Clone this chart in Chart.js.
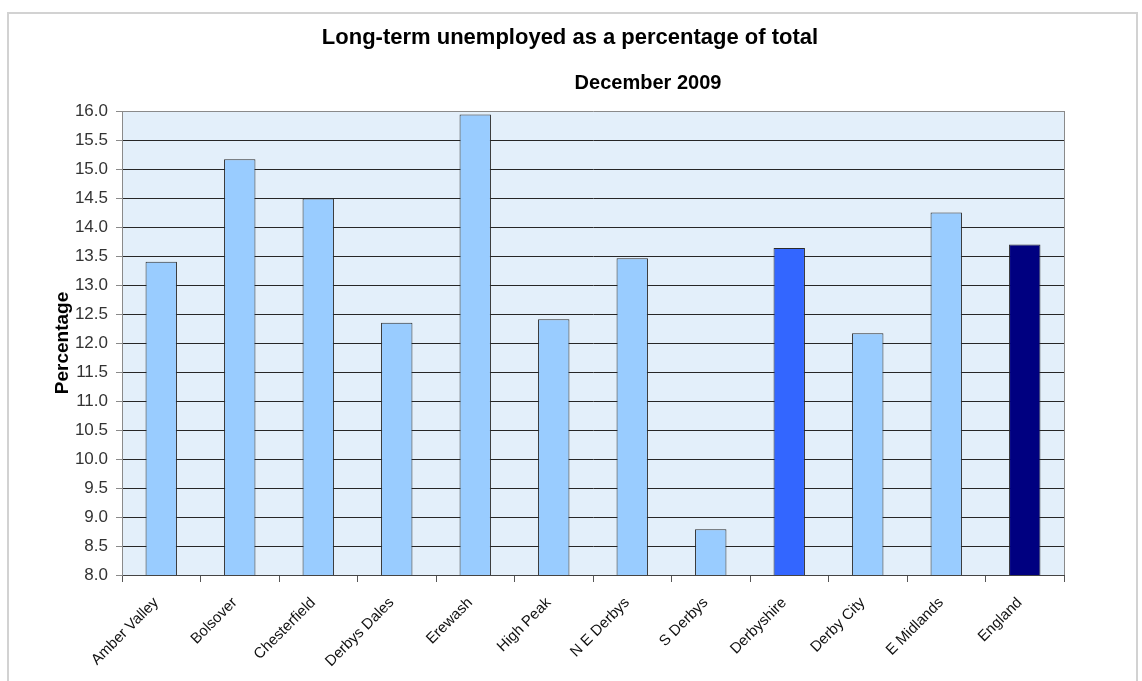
<!DOCTYPE html>
<html>
<head>
<meta charset="utf-8">
<title>Long-term unemployed</title>
<script src="https://cdn.jsdelivr.net/npm/chart.js@4.4.1/dist/chart.umd.min.js"></script>
<style>
  body { margin: 0; background: #fff; }
  #wrap { position: relative; width: 1142px; height: 681px; overflow: hidden; }
  #frame {
    position: absolute; left: 7px; top: 12px; width: 1127px; height: 700px;
    border: 2px solid #d2d2d2; border-bottom: none;
  }
  #chart { position: absolute; left: 0; top: 0; }
</style>
</head>
<body>
<div id="wrap">
  <div id="frame"></div>
  <canvas id="chart" width="1142" height="681"></canvas>
</div>
<script>
// datos - diciembre 2009
const categories = [
    "Amber Valley", "Bolsover", "Chesterfield", "Derbys Dales", "Erewash", "High Peak",
    "N E Derbys", "S Derbys", "Derbyshire", "Derby City", "E Midlands", "England",
];
const percentages = [13.40, 15.17, 14.49, 12.35, 15.94, 12.41, 13.46, 8.79, 13.64, 12.17, 14.25, 13.70];
const barColours = [
    "#99CCFF", "#99CCFF", "#99CCFF", "#99CCFF", "#99CCFF", "#99CCFF",
    "#99CCFF", "#99CCFF", "#3366FF", "#99CCFF", "#99CCFF", "#000080",
];
const yMin = 8.0, yMax = 16.0, yStep = 0.5;

const TITLE = "Long-term unemployed as a percentage of total";
const SUBTITLE = "December 2009";
const FONT = "'Liberation Sans', Arial, sans-serif";

// posiciones de los títulos dentro del marco
const titlePos = { x: 570, y: 38 };
const subtitlePos = { x: 648, y: 83 };

// fondo del área del gráfico, borde derecho y títulos
const plotBox = {
    id: "plotBox",
    beforeDraw(chart) {
        const { ctx, chartArea: a } = chart;
        ctx.save();
        ctx.fillStyle = "#E3EFFA";
        ctx.fillRect(a.left, a.top, a.right - a.left, a.bottom - a.top);
        ctx.restore();
    },
    afterDraw(chart) {
        const { ctx, chartArea: a } = chart;
        ctx.save();
        ctx.strokeStyle = "#8a8a8a";
        ctx.lineWidth = 1;
        ctx.beginPath();
        ctx.moveTo(a.right + 0.5, a.top);
        ctx.lineTo(a.right + 0.5, a.bottom);
        ctx.stroke();

        ctx.fillStyle = "#000";
        ctx.textAlign = "center";
        ctx.textBaseline = "middle";
        ctx.font = "bold 22px " + FONT;
        ctx.fillText(TITLE, titlePos.x, titlePos.y);
        ctx.font = "bold 20px " + FONT;
        ctx.fillText(SUBTITLE, subtitlePos.x, subtitlePos.y);
        ctx.restore();
    },
};

new Chart(document.getElementById("chart"), {
    type: "bar",
    data: {
        labels: categories,
        datasets: [
            {
                data: percentages,
                backgroundColor: barColours,
                borderColor: "#2b2b2b",
                borderWidth: 1,
                borderSkipped: false,
                barPercentage: 0.4,
                categoryPercentage: 1,
            },
        ],
    },
    options: {
        responsive: false,
        animation: false,
        layout: { padding: { left: 0, right: 78, top: 111, bottom: 0 } },
        plugins: {
            legend: { display: false },
            tooltip: { enabled: false },
            title: { display: false },
        },
        scales: {
            x: {
                grid: {
                    offset: true,
                    drawOnChartArea: false,
                    drawTicks: true,
                    tickLength: 7,
                    tickColor: "#555",
                },
                border: { color: "#444" },
                ticks: {
                    minRotation: 45,
                    maxRotation: 45,
                    autoSkip: false,
                    padding: 12,
                    labelOffset: -5,
                    color: "#111",
                    font: { family: FONT, size: 15 },
                },
                afterFit: (scale) => { scale.height = 106; },
            },
            y: {
                min: yMin,
                max: yMax,
                grid: {
                    color: (c) => (c.tick && c.tick.value === yMax ? "#8a8a8a" : "#262626"),
                    tickColor: "#8a8a8a",
                    tickLength: 6,
                },
                border: { color: "#8a8a8a" },
                ticks: {
                    stepSize: yStep,
                    padding: 8,
                    color: "#333",
                    font: { family: FONT, size: 17 },
                    callback: (v) => Number(v).toFixed(1),
                },
                title: {
                    display: true,
                    text: "Percentage",
                    color: "#000",
                    font: { family: FONT, size: 19, weight: "bold" },
                    padding: { top: 51, bottom: 0 },
                },
                afterFit: (scale) => { scale.width = 122; },
            },
        },
    },
    plugins: [plotBox],
});
</script>
</body>
</html>
